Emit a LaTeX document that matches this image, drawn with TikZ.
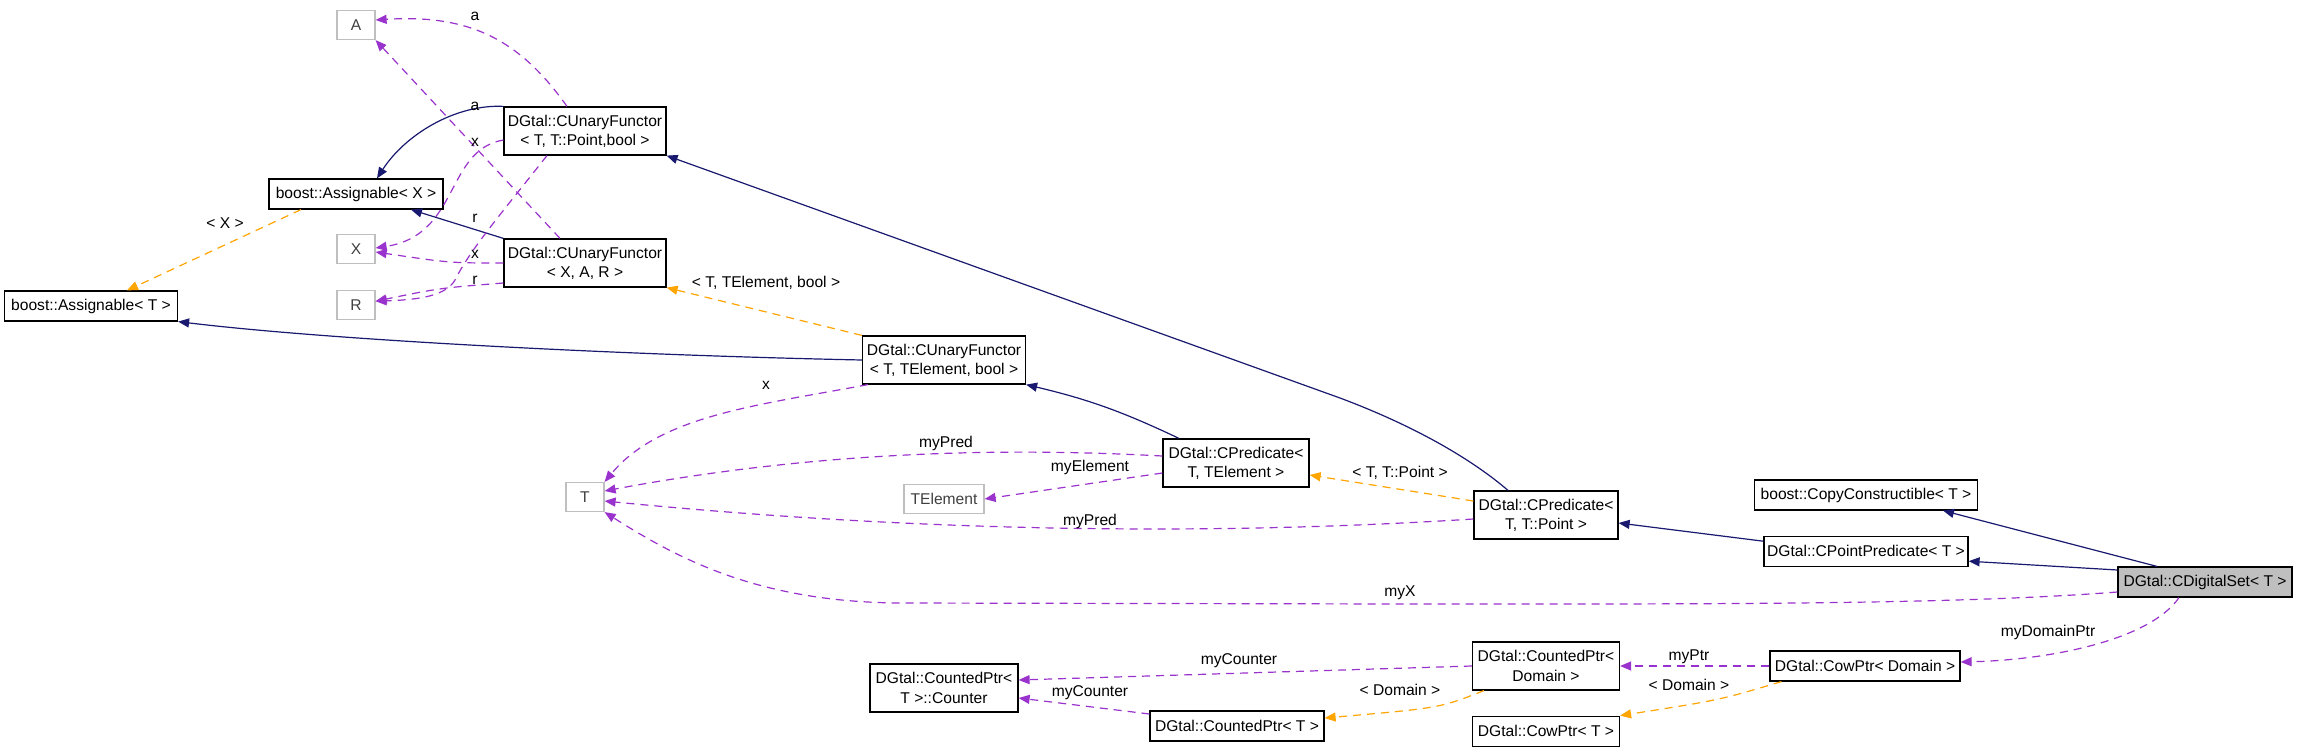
\documentclass[tikz,border=0pt]{standalone}
\usepackage{fontspec}
\setmainfont{Liberation Sans}
\usepackage{xcolor}
\usepackage{tikz}
\usetikzlibrary{arrows.meta,positioning}

\definecolor{edgenavy}{HTML}{191970}
\definecolor{edgepurple}{HTML}{9A32CD}
\definecolor{edgeorange}{HTML}{FFA500}
\definecolor{boxgrey}{HTML}{BFBFBF}

\begin{document}
\begin{tikzpicture}[
    x=0.5pt, y=-0.5pt,
    font=\fontsize{7.8pt}{9.6pt}\selectfont,
    box/.style={draw, rectangle, line width=0.6pt, minimum height=15pt,
                inner sep=1pt, align=center},
    twoline/.style={box, minimum height=24pt},
    extbox/.style={draw=boxgrey, rectangle, line width=0.6pt, text=black!75,
                   minimum width=19pt, minimum height=14.5pt, inner sep=1pt},
    mainbox/.style={box, fill=boxgrey},
    lbl/.style={inner sep=0pt},
    navyarrow/.style={-{Triangle[length=5.5pt,width=4.5pt]}, edgenavy,
                      line width=0.6pt},
    purplearrow/.style={-{Triangle[length=5.5pt,width=4.5pt]}, edgepurple,
                        line width=0.6pt, dash pattern=on 4pt off 3pt},
    orangearrow/.style={-{Triangle[length=5.5pt,width=4.5pt]}, edgeorange,
                        line width=0.6pt, dash pattern=on 4pt off 3pt}
]
\useasboundingbox (0,0) rectangle (2299,750);
\fill[white] (0,0) rectangle (2299,750);

\node[extbox] (nA) at (356,25) {A};
\node[box, minimum width=87pt] (assignX) at (356,194) {boost::Assignable< X >};
\node[extbox] (nX) at (356,249) {X};
\node[extbox, below=13pt of nX] (nR) {R};
\node[box, minimum width=86.5pt] (assignT) at (91,306) {boost::Assignable< T >};
\node[twoline, minimum width=81pt] (cuf1) at (585,131) {DGtal::CUnaryFunctor\\< T, T::Point,bool >};
\node[twoline, minimum width=81pt] (cuf2) at (585,263) {DGtal::CUnaryFunctor\\< X, A, R >};
\node[twoline, minimum width=81.5pt] (cuf3) at (944,360) {DGtal::CUnaryFunctor\\< T, TElement, bool >};
\node[extbox] (nT) at (585,497) {T};
\node[extbox, minimum width=40pt] (nTElem) at (944,499) {TElement};
\node[twoline, minimum width=73pt] (cpElem) at (1236,463) {DGtal::CPredicate<\\T, TElement >};
\node[twoline, minimum width=72pt] (cpPoint) at (1546,515) {DGtal::CPredicate<\\T, T::Point >};
\node[box, minimum width=111.5pt] (copyC) at (1866,495) {boost::CopyConstructible< T >};
\node[box, minimum width=102pt, below=12.5pt of copyC] (ptPred) {DGtal::CPointPredicate< T >};
\node[mainbox, minimum width=87pt] (digSet) at (2205,582) {DGtal::CDigitalSet< T >};
\node[twoline, minimum width=73.5pt] (cntDom) at (1546,666) {DGtal::CountedPtr<\\Domain >};
\node[box, minimum width=95pt] (cowDom) at (1865,666) {DGtal::CowPtr< Domain >};
\node[box, minimum width=73.5pt, below=12.5pt of cntDom] (cowT) {DGtal::CowPtr< T >};
\node[twoline, minimum width=74pt] (counter) at (944,688) {DGtal::CountedPtr<\\T >::Counter};
\node[box, minimum width=87pt] (cntT) at (1237,726) {DGtal::CountedPtr< T >};

\draw[navyarrow] (cuf1.north west) .. controls (455,104) and (405,135) .. ([xshift=10.5pt]assignX.north);
\draw[navyarrow] (cuf2.north west) -- ([xshift=27.5pt]assignX.south);
\draw[orangearrow] ([xshift=-27.5pt]assignX.south) -- ([xshift=18pt]assignT.north);
\draw[navyarrow] (cuf3.west) .. controls (620,355) and (330,340) .. (assignT.south east);
\draw[orangearrow] (cuf3.north west) -- (cuf2.south east);
\draw[navyarrow] ([xshift=-19pt]cpPoint.north) .. controls (1475,462) and (1420,428) .. (1340,398) -- (cuf1.south east);
\draw[navyarrow] ([xshift=-28.5pt]cpElem.north) to[bend right=6] (cuf3.south east);
\draw[purplearrow] ([xshift=-9pt]cuf1.north) .. controls (520,40) and (470,14) .. ([yshift=2.5pt]nA.east);
\draw[purplearrow] ([xshift=-12.5pt]cuf2.north) -- (nA.south east);
\draw[purplearrow] ([yshift=-4.5pt]cuf1.west) .. controls (445,150) and (460,235) .. ([yshift=0.5pt]nX.east);
\draw[purplearrow] ([xshift=-19pt]cuf1.south) .. controls (500,215) and (470,250) .. (455,280) .. controls (445,298) and (410,300) .. ([yshift=2pt]nR.east);
\draw[purplearrow] (cuf2.west) .. controls (450,263) .. ([yshift=-1.5pt]nX.east);
\draw[purplearrow] ([yshift=-10pt]cuf2.west) .. controls (440,288) .. ([yshift=2pt]nR.east);
\draw[purplearrow] ([xshift=3pt]cuf3.south west) .. controls (760,405) and (660,415) .. (nT.north east);
\draw[purplearrow] ([yshift=3.5pt]cpElem.west) .. controls (1050,450) and (850,445) .. ([yshift=3pt]nT.east);
\draw[purplearrow] ([yshift=-5pt]cpElem.west) -- (nTElem.east);
\draw[purplearrow] ([yshift=-2pt]cpPoint.west) .. controls (1300,530) and (1000,540) .. ([yshift=-2pt]nT.east);
\draw[orangearrow] ([yshift=7pt]cpPoint.west) -- ([yshift=-6pt]cpElem.east);
\draw[purplearrow] ([yshift=-5pt]digSet.west) .. controls (1950,605) and (1700,604) .. (1400,604) -- (900,603) .. controls (760,602) and (680,560) .. (nT.south east);
\draw[navyarrow] ([xshift=-24pt]digSet.north) -- ([xshift=38.5pt]copyC.south);
\draw[navyarrow] ([yshift=6pt]digSet.west) -- ([yshift=-5pt]ptPred.east);
\draw[navyarrow] ([yshift=5pt]ptPred.west) -- ([yshift=-4pt]cpPoint.east);
\draw[purplearrow] ([xshift=-13pt]digSet.south) .. controls (2150,640) and (2050,660) .. ([yshift=2pt]cowDom.east);
\draw[purplearrow] (cowDom.west) -- (cntDom.east);
\draw[orangearrow] ([xshift=6pt]cowDom.south west) .. controls (1720,700) .. (cowT.north east);
\draw[purplearrow] (cntDom.west) -- ([yshift=4pt]counter.east);
\draw[orangearrow] ([xshift=6pt]cntDom.south west) .. controls (1440,708) .. ([yshift=4pt]cntT.east);
\draw[purplearrow] ([yshift=6pt]cntT.west) -- ([yshift=-5pt]counter.east);

\node[lbl] (lA1) at (475,16) {a};
\node[lbl] (lA2) at (475,106) {a};
\node[lbl] (lX1) at (475,142) {x};
\node[lbl] (lR1) at (475,218) {r};
\node[lbl] (lX2) at (475,254) {x};
\node[lbl] (lR2) at (475,280) {r};
\node[lbl] (lAssign) at (225,223) {< X >};
\node[lbl] (lCuf) at (766,283) {< T, TElement, bool >};
\node[lbl] (lX3) at (766,385) {x};
\node[lbl] (lPred1) at (946,443) {myPred};
\node[lbl] (lElem) at (1090,467) {myElement};
\node[lbl] (lPred2) at (1090,521) {myPred};
\node[lbl] (lPoint) at (1400,473) {< T, T::Point >};
\node[lbl] (lmyX) at (1400,593) {myX};
\node[lbl] (lDomPtr) at (2048,632) {myDomainPtr};
\node[lbl] (lPtr) at (1689,657) {myPtr};
\node[lbl] (lDom1) at (1689,685) {< Domain >};
\node[lbl] (lCnt1) at (1239,661) {myCounter};
\node[lbl] (lDom2) at (1400,690) {< Domain >};
\node[lbl] (lCnt2) at (1090,693) {myCounter};
\end{tikzpicture}
\end{document}
